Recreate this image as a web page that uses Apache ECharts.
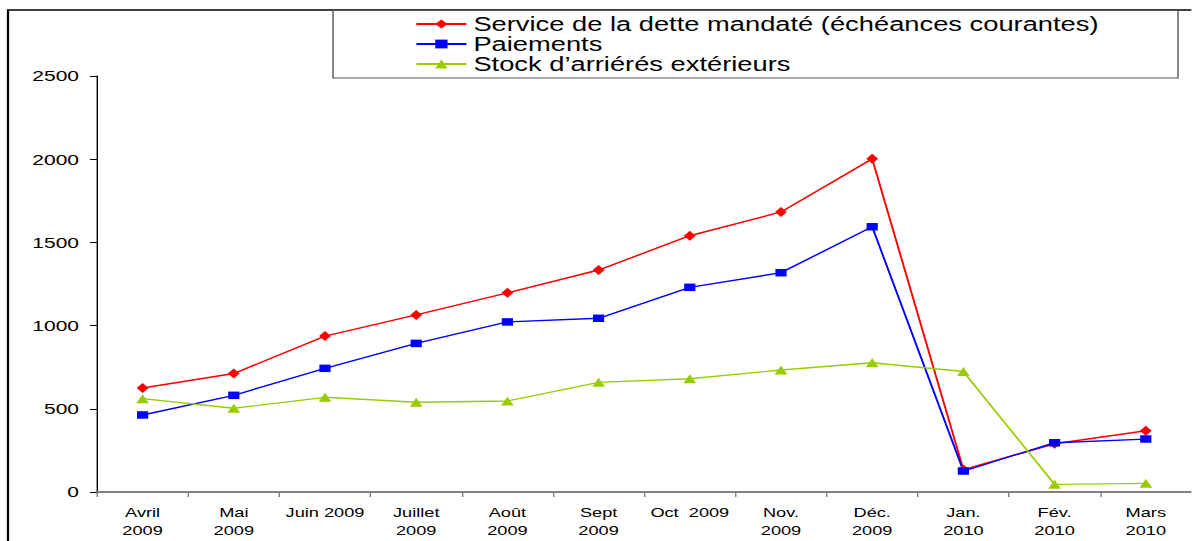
<!DOCTYPE html>
<html>
<head>
<meta charset="utf-8">
<script src="https://cdn.jsdelivr.net/npm/echarts@6/dist/echarts.min.js"></script>
<style>
  html, body { margin: 0; padding: 0; overflow: hidden; background: #fff; }
  /* the source picture is stretched sideways, so draw narrow and widen */
  #chart { width: 851.43px; height: 541px; transform: scaleX(1.4); transform-origin: 0 0; }
</style>
</head>
<body>
<div id="chart"></div>
<script>
const SX = 1.4;

const categories = ['Avril\n2009', 'Mai\n2009', 'Juin 2009', 'Juillet\n2009', 'Août\n2009', 'Sept\n2009',
  'Oct  2009', 'Nov.\n2009', 'Déc.\n2009', 'Jan.\n2010', 'Fév.\n2010', 'Mars\n2010'];
const serviceDette = [625, 712, 937, 1064, 1197, 1334, 1540, 1683, 2002, 135, 290, 368];
const paiements = [463, 581, 743, 893, 1022, 1044, 1230, 1318, 1594, 126, 296, 318];
const stockArrieres = [561, 503, 569, 539, 547, 659, 681, 733, 777, 724, 46, 52];
const yTicks = [0, 500, 1000, 1500, 2000, 2500];

const font = "'Liberation Sans', Arial, sans-serif";

const chart = echarts.init(document.getElementById('chart'), null, { renderer: 'svg' });

const option = {
  animation: false,
  backgroundColor: '#fff',
  textStyle: { fontFamily: font },
  graphic: [
    {
      type: 'rect',
      shape: { x: 8 / SX, y: 10, width: 1300 / SX, height: 600 },
      style: { fill: 'none', stroke: '#000', lineWidth: 1.6 },
      silent: true
    },
    {
      type: 'rect',
      shape: { x: 333 / SX, y: 10.5, width: (1178 - 333) / SX, height: 67.5 },
      style: { fill: '#fff', stroke: '#555', lineWidth: 1 },
      silent: true,
      z: 1
    }
  ],
  legend: {
    orient: 'vertical',
    left: 408 / SX,
    top: 9,
    itemWidth: 50 / SX,
    itemHeight: 11,
    itemGap: 0,
    z: 5,
    textStyle: { fontSize: 19.5, lineHeight: 20, color: '#000', fontFamily: font },
    data: ['Service de la dette mandaté (échéances courantes)', 'Paiements', 'Stock d’arriérés extérieurs']
  },
  grid: {
    left: 97 / SX,
    top: 76,
    height: 416,
    width: 1102 / SX
  },
  xAxis: {
    type: 'category',
    data: categories,
    boundaryGap: true,
    axisLine: { lineStyle: { color: '#808080', width: 2 } },
    axisTick: { show: true, length: 5, lineStyle: { color: '#808080', width: 1 } },
    axisLabel: { color: '#000', fontSize: 13, lineHeight: 18, margin: 11, interval: 0, fontFamily: font }
  },
  yAxis: {
    type: 'value',
    min: yTicks[0],
    max: yTicks[yTicks.length - 1],
    interval: 500,
    axisLine: { show: true, lineStyle: { color: '#000', width: 1 } },
    axisTick: { show: true, length: 7 / SX, lineStyle: { color: '#000' } },
    axisLabel: {
      color: '#000',
      fontSize: 15,
      margin: 18 / SX,
      fontFamily: font,
      formatter: (v) => String(v)
    },
    splitLine: { show: false }
  },
  series: [
    {
      name: 'Service de la dette mandaté (échéances courantes)',
      type: 'line',
      data: serviceDette,
      color: '#FF0000',
      symbol: 'diamond',
      symbolSize: [8.5, 10],
      lineStyle: { width: 1.4 }
    },
    {
      name: 'Paiements',
      type: 'line',
      data: paiements,
      color: '#0000FF',
      symbol: 'rect',
      symbolSize: [8, 7.5],
      lineStyle: { width: 1.4 }
    },
    {
      name: 'Stock d’arriérés extérieurs',
      type: 'line',
      data: stockArrieres,
      color: '#99CC00',
      symbol: 'triangle',
      symbolSize: [9, 9],
      lineStyle: { width: 1.4 }
    }
  ]
};

chart.setOption(option);
</script>
</body>
</html>
